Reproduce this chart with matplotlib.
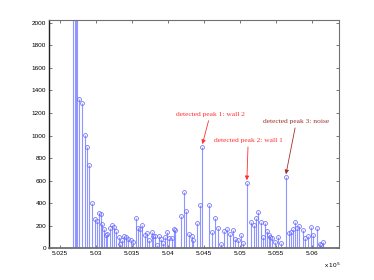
import matplotlib
matplotlib.use("Agg")
import matplotlib.pyplot as plt

# positions (data units) and amplitudes
x_vals = [502688, 502707, 502725, 502743, 502771, 502813, 502850, 502882, 502910,
          502951, 502993, 503021, 503049, 503068, 503090, 503114, 503135, 503160,
          503197, 503221, 503249, 503276, 503315, 503340, 503364, 503395, 503424,
          503450, 503482, 503521, 503558, 503590, 503617, 503645, 503683, 503715,
          503743, 503777, 503799, 503827, 503854, 503882, 503910, 503938, 503965,
          503993, 504021, 504054, 504082, 504104, 504179, 504221, 504257, 504299,
          504332, 504354, 504410, 504447, 504479, 504572, 504614, 504652, 504693,
          504739, 504785, 504827, 504860, 504906, 504934, 504979, 505021, 505045,
          505096, 505156, 505197, 505225, 505249, 505285, 505318, 505341, 505374,
          505402, 505420, 505447, 505493, 505531, 505563, 505638, 505679, 505702,
          505735, 505757, 505791, 505822, 505874, 505896, 505943, 505985, 506013,
          506063, 506104, 506118, 506146]
y_vals = [5200, 4100, 3300, 2600, 1320, 1285, 1009, 902, 742,
          403, 261, 243, 314, 305, 216, 172, 118, 127,
          181, 207, 190, 154, 98, 38, 74, 110, 101,
          83, 74, 53, 267, 178, 172, 207, 118, 133,
          74, 148, 110, 110, 29, 110, 83, 50, 104,
          148, 89, 89, 169, 163, 290, 504, 332, 127,
          110, 74, 228, 386, 899, 386, 148, 267, 183,
          36, 157, 169, 125, 163, 80, 74, 118, 50,
          579, 231, 207, 267, 326, 237, 98, 222, 157,
          118, 104, 95, 53, 104, 50, 632, 133, 148,
          169, 237, 178, 201, 163, 95, 110, 192, 118,
          178, 36, 29, 53]

x_ticks = [502500, 503000, 503500, 504000, 504500, 505000, 505500, 506000]
x_tick_labels = ["5.025", "5.03", "5.035", "5.04", "5.045", "5.05", "5.055", "5.06"]
y_ticks = [0, 200, 400, 600, 800, 1000, 1200, 1400, 1600, 1800, 2000]

peak_labels = ["detected peak 1: wall 2", "detected peak 2: wall 1", "detected peak 3: noise"]
peak_x = [504479, 505096, 505638]
peak_y = [899, 579, 632]
label_x = [504586, 505114, 505781]
label_y = [1162, 930, 1098]
label_colors = ["#ff3030", "#ff3030", "#a0302a"]

fig = plt.figure(figsize=(3.74, 2.80), dpi=100)
ax = fig.add_axes([0.131, 0.1129, 0.7746, 0.8142])

markerline, stemlines, baseline = ax.stem(x_vals, y_vals, basefmt=" ")
plt.setp(stemlines, color="#8f96ff", linewidth=0.8)
plt.setp(markerline, color="#6b6bff", marker="o", markersize=2.8,
         markerfacecolor="none", markeredgewidth=0.55)

ax.set_xlim(502350, 506370)
ax.set_ylim(0, 2020)
ax.set_xticks(x_ticks)
ax.set_xticklabels(x_tick_labels)
ax.set_yticks(y_ticks)
ax.tick_params(direction="in", length=2.5, width=0.6, colors="#606060",
               labelcolor="black", labelsize=4.6, pad=2,
               top=True, right=True)
for lab in ax.get_xticklabels() + ax.get_yticklabels():
    lab.set_fontfamily("Liberation Sans")
for s in ["top", "right", "bottom"]:
    ax.spines[s].set_color("#707070")
    ax.spines[s].set_linewidth(0.8)
ax.spines["bottom"].set_linewidth(1.3)
ax.spines["left"].set_color("#222222")
ax.spines["left"].set_linewidth(1.0)

fig.text(0.866, 0.043, r"x 10$^5$", fontsize=4.6, family="Liberation Sans")

for lbl, px, py, lx, ly, c in zip(peak_labels, peak_x, peak_y, label_x, label_y, label_colors):
    ax.annotate(lbl, xy=(px, py + 25), xytext=(lx, ly),
                ha="center", va="bottom", fontsize=5.4, family="Liberation Serif",
                color=c,
                arrowprops=dict(arrowstyle="-|>", color=c, lw=0.6,
                                mutation_scale=6, shrinkA=0.5, shrinkB=0))

fig.savefig("out.png", dpi=100)
